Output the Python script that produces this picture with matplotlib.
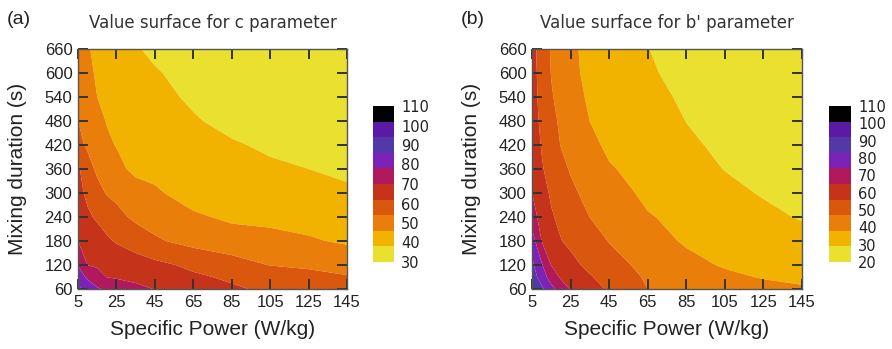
import numpy as np
import matplotlib
matplotlib.use("Agg")
import matplotlib.pyplot as plt
from matplotlib.colors import ListedColormap, Normalize
import matplotlib.cm as cm

# ---- data ----
power_ticks = [5, 25, 45, 65, 85, 105, 125, 145]
duration_ticks = [60, 120, 180, 240, 300, 360, 420, 480, 540, 600, 660]

grid_power = [5, 10, 15, 20, 25, 35, 45, 65, 85, 105, 125, 145]
grid_duration = [60, 90, 120, 180, 240, 300, 360, 420, 480, 540, 600, 660]

# c parameter surface, one row per duration (60 s ... 660 s)
c_row_060 = [88.0, 83.3, 78.9, 76.8, 75.3, 72.4, 69.7, 66.4, 63.1, 60.5, 58.3, 56.0]
c_row_090 = [82.7, 76.5, 72.9, 69.85, 69.1, 67.6, 66.2, 63.2, 60.8, 58.7, 56.6, 54.5]
c_row_120 = [77.5, 69.9, 69.1, 68.2, 67.4, 65.6, 63.9, 60.4, 56.8, 53.8, 52.6, 51.4]
c_row_180 = [70.0, 67.7, 65.5, 63.2, 61.3, 58.4, 55.0, 51.5, 50.0, 48.5, 46.8, 45.0]
c_row_240 = [67.0, 63.3, 60.9, 58.6, 56.2, 52.5, 51.0, 47.3, 44.5, 44.0, 43.3, 42.5]
c_row_300 = [64.4, 60.3, 56.4, 53.5, 52.25, 49.75, 47.25, 42.25, 41.5, 40.7, 39.9, 39.0]
c_row_360 = [63.3, 56.7, 52.7, 50.4, 48.2, 44.0, 43.6, 42.0, 40.7, 39.4, 38.0, 36.8]
c_row_420 = [56.0, 52.9, 50.0, 47.1, 45.7, 44.5, 43.4, 41.1, 38.9, 36.65, 35.4, 34.2]
c_row_480 = [54.0, 50.9, 47.8, 45.7, 44.9, 43.4, 41.8, 38.8, 35.6, 34.4, 33.2, 32.0]
c_row_540 = [52.5, 49.2, 46.0, 45.1, 44.1, 42.3, 40.4, 36.7, 35.5, 34.2, 33.0, 31.8]
c_row_600 = [52.0, 47.5, 45.2, 44.3, 43.2, 41.0, 38.3, 36.8, 35.4, 34.0, 32.6, 31.2]
c_row_660 = [55.0, 46.5, 44.7, 43.3, 41.8, 38.3, 37.3, 36.1, 34.7, 33.3, 31.9, 30.5]

# b' parameter surface
b_row_060 = [91.0, 84.9, 76.9, 69.7, 64.4, 59.5, 54.8, 47.0, 44.9, 42.8, 40.7, 38.6]
b_row_090 = [87.5, 79.0, 69.5, 63.8, 61.5, 56.8, 52.5, 45.9, 42.9, 39.8, 37.4, 36.9]
b_row_120 = [85.0, 75.0, 64.7, 61.6, 58.5, 53.8, 50.1, 44.6, 40.5, 37.2, 36.4, 35.2]
b_row_180 = [78.7, 64.8, 60.5, 56.3, 54.2, 50.4, 46.7, 41.5, 37.0, 35.5, 33.7, 31.8]
b_row_240 = [69.0, 61.6, 56.9, 54.0, 51.6, 46.9, 44.1, 38.6, 35.8, 33.3, 30.8, 28.4]
b_row_300 = [65.0, 59.4, 54.8, 51.8, 48.8, 44.3, 41.7, 36.2, 33.9, 31.0, 28.4, 26.5]
b_row_360 = [62.0, 56.75, 53.0, 49.25, 46.3, 42.6, 38.7, 35.1, 31.9, 28.8, 26.9, 25.0]
b_row_420 = [60.5, 55.5, 50.9, 46.7, 44.4, 40.0, 36.5, 33.6, 30.1, 27.7, 25.8, 23.8]
b_row_480 = [59.5, 54.4, 49.3, 45.6, 43.0, 37.96, 36.1, 32.4, 28.9, 26.8, 24.8, 22.8]
b_row_540 = [59.2, 53.5, 47.7, 44.5, 41.3, 36.8, 35.3, 31.3, 27.8, 26.1, 24.1, 22.0]
b_row_600 = [59.2, 52.8, 46.7, 43.7, 40.2, 35.8, 34.6, 29.9, 26.8, 25.3, 23.4, 21.5]
b_row_660 = [59.1, 52.1, 46.1, 43.0, 39.5, 35.8, 33.9, 29.1, 27.0, 25.0, 23.0, 21.0]

c_range = (30, 110)
b_range = (20, 110)
c_cbar_ticks = [30, 40, 50, 60, 70, 80, 90, 100, 110]
b_cbar_ticks = [20, 30, 40, 50, 60, 70, 80, 90, 100, 110]

# palette, low -> high (10 discrete bands)
palette = ['#e9e02f', '#f1b200', '#e97f0a', '#da580e', '#c5341a',
           '#b0195c', '#7d22b6', '#5338a8', '#5a1aa6', '#000000']

c_surface = np.array([c_row_060, c_row_090, c_row_120, c_row_180, c_row_240, c_row_300,
                      c_row_360, c_row_420, c_row_480, c_row_540, c_row_600, c_row_660])
b_surface = np.array([b_row_060, b_row_090, b_row_120, b_row_180, b_row_240, b_row_300,
                      b_row_360, b_row_420, b_row_480, b_row_540, b_row_600, b_row_660])

# ---- figure ----
W, H = 892, 349
fig = plt.figure(figsize=(W / 100, H / 100), dpi=100)
fig.patch.set_facecolor('white')

def frac(x0, y0, x1, y1):
    return [x0 / W, 1 - y1 / H, (x1 - x0) / W, (y1 - y0) / H]

cmap = ListedColormap(palette)

panels = [
    dict(data=c_surface, rng=c_range, ticks=c_cbar_ticks, ax=frac(78, 49, 347, 289),
         cb=frac(373, 106, 394, 262), title='Value surface for c parameter', tag='(a)', tagx=7),
    dict(data=b_surface, rng=b_range, ticks=b_cbar_ticks, ax=frac(532, 49, 802, 289),
         cb=frac(829, 106, 851, 262), title="Value surface for b' parameter", tag='(b)', tagx=461),
]

P, D = np.meshgrid(grid_power, grid_duration)

for p in panels:
    ax = fig.add_axes(p['ax'])
    lo, hi = p['rng']
    levels = np.linspace(lo, hi, len(palette) + 1)
    ax.contourf(P, D, p['data'], levels=levels, colors=palette, antialiased=True)
    ax.set_xlim(5, 145)
    ax.set_ylim(60, 660)
    ax.set_xticks(power_ticks)
    ax.set_yticks(duration_ticks)
    ax.tick_params(direction='in', top=True, right=True, length=7, width=1.4,
                   color='#333333', labelsize=12, pad=4)
    for lab in ax.get_xticklabels() + ax.get_yticklabels():
        lab.set_family('Liberation Sans')
        lab.set_color('#222222')
    for s in ax.spines.values():
        s.set_color('#555555')
        s.set_linewidth(1.0)
    ax.set_xlabel('Specific Power (W/kg)', fontsize=15, family='Liberation Sans', color='#222222')
    ax.set_ylabel('Mixing duration (s)', fontsize=15, family='Liberation Sans', color='#222222')
    ax.xaxis.set_label_coords(0.5, -0.13)
    ax.yaxis.set_label_coords(-0.19, 0.5)
    ax.set_title(p['title'], fontsize=12, family='DejaVu Sans', color='#333333', pad=15)

    fig.text(p['tagx'] / W, 1 - 20 / H, p['tag'], fontsize=14, family='Liberation Sans',
             color='#222222', ha='left', va='center')

    cax = fig.add_axes(p['cb'])
    cb = fig.colorbar(cm.ScalarMappable(norm=Normalize(lo, hi), cmap=cmap), cax=cax,
                      ticks=p['ticks'])
    cb.outline.set_visible(False)
    cax.tick_params(length=0, labelsize=10.5, pad=5)
    for lab in cax.get_yticklabels():
        lab.set_family('DejaVu Sans')
        lab.set_color('#222222')

fig.savefig('out.png', dpi=100)
